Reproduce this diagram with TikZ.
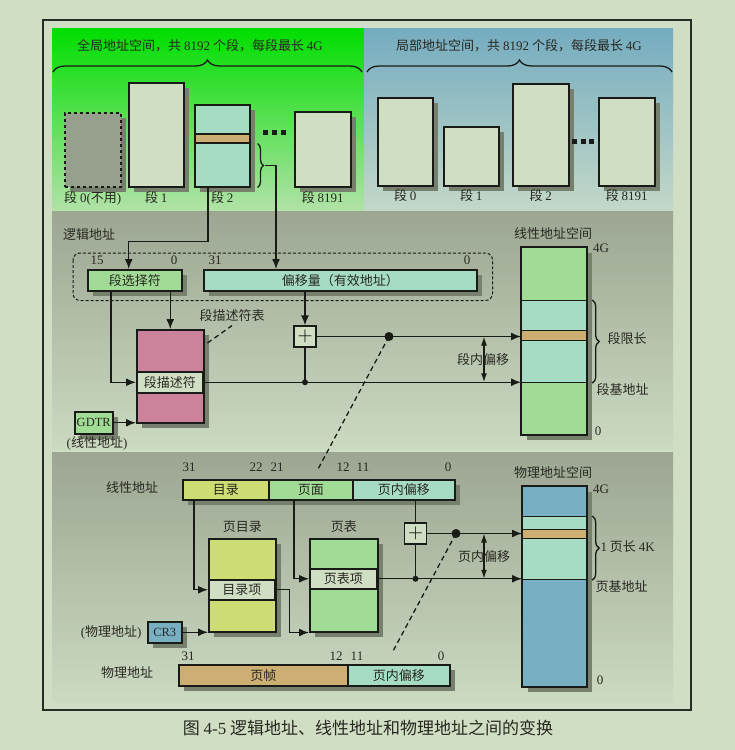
\documentclass[tikz,border=0pt]{standalone}
\usepackage{fontspec}
\setmainfont{Noto Sans CJK SC}
\newfontfamily\numf{Liberation Serif}
\usetikzlibrary{positioning,arrows.meta,decorations.pathreplacing,calc}

\definecolor{pagebg}{RGB}{208,222,196}
\definecolor{framec}{RGB}{40,44,38}
\definecolor{linec}{RGB}{25,28,22}
\definecolor{textc}{RGB}{40,40,32}
\definecolor{gtop}{RGB}{0,222,0}
\definecolor{gmid}{RGB}{100,216,95}
\definecolor{gbot}{RGB}{178,226,168}
\definecolor{btop}{RGB}{116,172,192}
\definecolor{bbot}{RGB}{196,216,200}
\definecolor{mtop}{RGB}{156,166,146}
\definecolor{mbot}{RGB}{204,218,194}
\definecolor{lightbox}{RGB}{208,222,196}
\definecolor{greenbox}{RGB}{160,220,150}
\definecolor{tealbox}{RGB}{165,220,195}
\definecolor{tanc}{RGB}{205,175,115}
\definecolor{pinkc}{RGB}{205,130,155}
\definecolor{ygreen}{RGB}{205,220,115}
\definecolor{bluec}{RGB}{120,175,195}
\definecolor{seggray}{RGB}{150,160,140}
\definecolor{shadowc}{RGB}{118,128,108}

\begin{document}
\begin{tikzpicture}[x=1pt,y=-1pt,
  txt/.style={text=textc,font=\fontsize{13}{15}\selectfont},
  bitn/.style={text=textc,font=\fontsize{13}{15}\selectfont\numf,inner sep=1pt},
  box/.style={draw=linec,line width=1.5pt,inner sep=0pt,anchor=north west,txt},
  band/.style={draw=linec,line width=1.2pt,inner sep=0pt,anchor=north west,minimum width=65pt},
  arr/.style={draw=linec,line width=1.4pt,-{Latex[length=10pt,width=8pt]}},
  darr/.style={draw=linec,line width=1.4pt,{Latex[length=9pt,width=6pt]}-{Latex[length=9pt,width=6pt]}},
  con/.style={draw=linec,line width=1.4pt},
  dsh/.style={draw=linec,line width=1.3pt,dash pattern=on 5pt off 3.5pt},
  brc/.style={draw=linec,line width=1.3pt,decorate},
  plusbox/.style={draw=linec,line width=1.3pt,fill=lightbox,minimum width=22pt,minimum height=21pt,inner sep=0pt,font=\fontsize{22}{22}\selectfont}]

\useasboundingbox (0,0) rectangle (735,750);

% panels
\fill[pagebg] (0,0) rectangle (735,750);
\shade[top color=gtop,middle color=gmid,bottom color=gbot] (52,28) rectangle (364,211);
\shade[top color=btop,bottom color=bbot] (364,28) rectangle (673,211);
\shade[top color=mtop,bottom color=mbot] (52,211) rectangle (673,449);
\shade[top color=mtop,bottom color=mbot] (52,452) rectangle (673,702);
\draw[framec,line width=1.8pt] (43,20) rectangle (691,710);

% drop shadows (x/y/width/height of the boxes below)
\foreach \x/\y/\w/\h in {64/112/56/74,128/82/55/104,194/104/55/82,294/111/56/75,
    377/97/55/88,443/126/55/59,512/83/56/102,598/97/56/88,
    87/269/94/21,203/269/273/21,136/329/67/93,74/411/38/22,521/247/65/187,
    182/479/272/20,208/538/67/93,309/538/68/93,147/621/34/21,522/486/64/200,178/664/271/21}
  \fill[shadowc] (\x+6,\y+6) rectangle ++(\w,\h);

% global / local segment spaces
\draw[brc,decoration={brace,amplitude=12pt}] (53,72) -- (362,72);
\node[txt] at (200,46) {全局地址空间，共 {\numf 8192} 个段，每段最长 {\numf 4G}};
\draw[brc,decoration={brace,amplitude=12pt}] (367,72) -- (672,72);
\node[txt] at (519,46) {局部地址空间，共 {\numf 8192} 个段，每段最长 {\numf 4G}};

\node[box,fill=seggray,dashed,minimum width=56pt,minimum height=74pt] (gseg0) at (64,112) {};
\node[box,fill=lightbox,minimum width=55pt,minimum height=104pt] (gseg1) at (128,82) {};
\node[box,fill=tealbox,minimum width=55pt,minimum height=82pt] (gseg2) at (194,104) {};
\node[box,fill=tanc,minimum width=55pt,minimum height=9pt] (gband) at (194,133) {};
\node[box,fill=lightbox,minimum width=56pt,minimum height=75pt] (gseg8191) at (294,111) {};
\node[txt,below=0pt of gseg0] {段 {\numf 0(}不用{\numf )}};
\node[txt,below=0pt of gseg1] {段 {\numf 1}};
\node[txt,below=0pt of gseg2] {段 {\numf 2}};
\node[txt,below=0pt of gseg8191] {段 {\numf 8191}};
\foreach \i in {0,1,2} \fill[linec] (263+\i*9,130) rectangle ++(5,5);

\node[box,fill=lightbox,minimum width=55pt,minimum height=88pt] (lseg0) at (377,97) {};
\node[box,fill=lightbox,minimum width=55pt,minimum height=59pt] (lseg1) at (443,126) {};
\node[box,fill=lightbox,minimum width=56pt,minimum height=102pt] (lseg2) at (512,83) {};
\node[box,fill=lightbox,minimum width=56pt,minimum height=88pt] (lseg8191) at (598,97) {};
\node[txt,below=-1pt of lseg0] {段 {\numf 0}};
\node[txt,below=-1pt of lseg1] {段 {\numf 1}};
\node[txt,below=-1pt of lseg2] {段 {\numf 2}};
\node[txt,below=-1pt of lseg8191] {段 {\numf 8191}};
\foreach \i in {0,1,2} \fill[linec] (572+\i*8.5,139) rectangle ++(5,5);

% logical address
\node[txt] at (89,235) {逻辑地址};
\node[box,fill=greenbox,minimum width=94pt,minimum height=21pt] (sel) at (87,269) {段选择符};
\node[box,fill=tealbox,minimum width=273pt,minimum height=21pt] (off) at (203,269) {偏移量（有效地址）};
\node[bitn] at (97,260) {15};
\node[bitn] at (174,260) {0};
\node[bitn] at (215,260) {31};
\node[bitn] at (467,260) {0};
\draw[linec,line width=1pt,dash pattern=on 3pt off 2pt,rounded corners=7pt]
  ([xshift=-14pt,yshift=16pt]sel.north west) rectangle ([xshift=15pt,yshift=-9pt]off.south east);

\draw[brc,decoration={brace,amplitude=6pt}] ([xshift=7pt]gband.south east) -- ([xshift=7pt]gseg2.south east);
\coordinate (gtip) at ($(gband.south east)!.5!(gseg2.south east)+(14,0)$);
\draw[arr] (gtip) -| ([xshift=73pt]off.north west);
\draw[arr] ([xshift=14pt]gseg2.south west) -- ++(0,54) -| ([xshift=-6pt]sel.north);

% descriptor table
\node[box,fill=pinkc,minimum width=67pt,minimum height=93pt] (desctab) at (136,329) {};
\node[box,fill=lightbox,minimum width=66pt,minimum height=21pt] (descent) at (136,371) {段描述符};
\node[txt] (tablbl) at (232,316) {段描述符表};
\draw[dsh] ([xshift=3pt,yshift=-14pt]desctab.north east) -- (tablbl.south);
\draw[arr] (desctab.north |- sel.south) -- (desctab.north);
\draw[arr] ([xshift=24pt]sel.south west) |- (descent.west);
\node[box,fill=greenbox,minimum width=38pt,minimum height=22pt,font=\fontsize{12.5}{14}\selectfont\numf] (gdtr) at (74,411) {GDTR};
\node[txt] at (97,443) {{\numf (}线性地址{\numf )}};
\draw[arr] (gdtr.east) -- (gdtr.east -| desctab.west);

% linear address space
\node[box,fill=greenbox,minimum width=65pt,minimum height=187pt] (linsp) at (521,247) {};
\node[band,fill=greenbox,minimum height=53pt] (linb1) at (521,247) {};
\node[band,fill=tealbox,minimum height=30pt] (linb2) at (521,300) {};
\node[band,fill=tanc,minimum height=10pt] (linb3) at (521,330) {};
\node[band,fill=tealbox,minimum height=42pt] (linb4) at (521,340) {};
\node[band,fill=greenbox,minimum height=52pt] (linb5) at (521,382) {};
\draw[linec,line width=1.5pt] (linsp.north west) rectangle (linsp.south east);
\node[txt] at (553,234) {线性地址空间};
\node[bitn,anchor=west] at (592,248) {4G};
\node[bitn] at (598,431) {0};
\draw[brc,decoration={brace,amplitude=7pt}] ([xshift=5pt]linb2.north east) -- ([xshift=5pt]linb4.south east);
\node[txt,anchor=west] at (604,339) {段限长};
\node[txt,anchor=west] at (593,390) {段基地址};

\node[plusbox] (plusA) at (305,336.5) {$+$};
\draw[arr] (plusA.north |- off.south) -- (plusA.north);
\coordinate (dotA) at (plusA |- descent.east);
\draw[con] (plusA.south) -- (dotA);
\fill[linec] (dotA) circle (3pt);
\draw[arr] (descent.east) -- (descent.east -| linsp.west);
\draw[arr] (plusA.east) -- (plusA.east -| linsp.west);
\coordinate (bigA) at (389,336.5);
\fill[linec] (bigA) circle (4.5pt);
\coordinate (innerA) at (484,0);
\draw[darr] (plusA.east -| innerA) -- (descent.east -| innerA);
\node[txt] at (483,360) {段内偏移};
\coordinate (dashA) at (317,471);
\draw[dsh] (bigA) -- (dashA);

% paging
\node[txt] at (132,488) {线性地址};
\node[box,fill=ygreen,minimum width=86pt,minimum height=20pt] (ldir) at (182,479) {目录};
\node[box,fill=greenbox,minimum width=84pt,minimum height=20pt] (lpage) at (268,479) {页面};
\node[box,fill=tealbox,minimum width=102pt,minimum height=20pt] (loff) at (352,479) {页内偏移};
\node[bitn] at (189,467) {31};
\node[bitn] at (256,467) {22};
\node[bitn] at (277,467) {21};
\node[bitn] at (343,467) {12};
\node[bitn] at (363,467) {11};
\node[bitn] at (448,467) {0};

\node[box,fill=ygreen,minimum width=67pt,minimum height=93pt] (pdir) at (208,538) {};
\node[box,fill=lightbox,minimum width=66pt,minimum height=20pt] (pdirent) at (208,579) {目录项};
\node[txt,above=2pt of pdir] {页目录};
\node[box,fill=greenbox,minimum width=68pt,minimum height=93pt] (ptab) at (309,538) {};
\node[box,fill=lightbox,minimum width=67pt,minimum height=20pt] (ptabent) at (309,568) {页表项};
\node[txt,above=2pt of ptab] {页表};
\draw[arr] ([xshift=12pt]ldir.south west) |- (pdirent.west);
\draw[arr] ([xshift=26pt]lpage.south west) |- (ptabent.west);
\draw[arr] (pdirent.east) -- ++(14,0) |- (ptab.south west);
\node[box,fill=bluec,minimum width=34pt,minimum height=21pt,font=\fontsize{12.5}{14}\selectfont\numf] (cr3) at (147,621) {CR3};
\node[txt,anchor=east] at (145,632) {{\numf (}物理地址{\numf )}};
\draw[arr] (cr3.east) -- (cr3.east -| pdir.west);

% physical address space
\node[box,fill=bluec,minimum width=64pt,minimum height=200pt] (physp) at (522,486) {};
\node[band,fill=bluec,minimum width=64pt,minimum height=30pt] (phb1) at (522,486) {};
\node[band,fill=tealbox,minimum width=64pt,minimum height=13pt] (phb2) at (522,516) {};
\node[band,fill=tanc,minimum width=64pt,minimum height=9pt] (phb3) at (522,529) {};
\node[band,fill=tealbox,minimum width=64pt,minimum height=41pt] (phb4) at (522,538) {};
\node[band,fill=bluec,minimum width=64pt,minimum height=107pt] (phb5) at (522,579) {};
\draw[linec,line width=1.5pt] (physp.north west) rectangle (physp.south east);
\node[txt] at (553,473) {物理地址空间};
\node[bitn,anchor=west] at (592,489) {4G};
\node[bitn] at (600,680) {0};
\draw[brc,decoration={brace,amplitude=7pt}] ([xshift=5pt]phb2.north east) -- ([xshift=5pt]phb4.south east);
\node[txt,anchor=west] at (597,547) {{\numf 1} 页长 {\numf 4K}};
\node[txt,anchor=west] at (592,587) {页基地址};

\node[plusbox] (plusB) at (415.5,533.5) {$+$};
\draw[con] (plusB.north |- loff.south) -- (plusB.north);
\coordinate (dotB) at (plusB |- ptabent.east);
\draw[con] (plusB.south) -- (dotB);
\fill[linec] (dotB) circle (3pt);
\draw[arr] (ptabent.east) -- (ptabent.east -| physp.west);
\draw[arr] (plusB.east) -- (plusB.east -| physp.west);
\coordinate (bigB) at (456,533.5);
\fill[linec] (bigB) circle (4.5pt);
\coordinate (innerB) at (484,0);
\draw[darr] (plusB.east -| innerB) -- (ptabent.east -| innerB);
\node[txt] at (484,557) {页内偏移};
\coordinate (dashB) at (392,653);
\draw[dsh] (bigB) -- (dashB);

% physical address
\node[txt] at (127,673) {物理地址};
\node[box,fill=tanc,minimum width=169pt,minimum height=21pt] (pframe) at (178,664) {页帧};
\node[box,fill=tealbox,minimum width=102pt,minimum height=21pt] (poff) at (347,664) {页内偏移};
\node[bitn] at (188,656) {31};
\node[bitn] at (336,656) {12};
\node[bitn] at (357,656) {11};
\node[bitn] at (441,656) {0};

\node[text=textc,font=\fontsize{17}{19}\selectfont] at (368,728) {图 {\numf 4-5} 逻辑地址、线性地址和物理地址之间的变换};
\end{tikzpicture}
\end{document}
